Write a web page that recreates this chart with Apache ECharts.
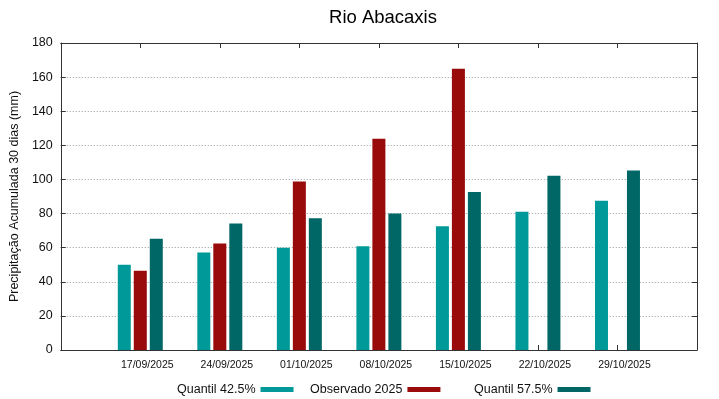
<!DOCTYPE html>
<html>
<head>
<meta charset="utf-8">
<title>Rio Abacaxis</title>
<script src="https://cdn.jsdelivr.net/npm/echarts@6/dist/echarts.min.js"></script>
<style>
    html, body { margin: 0; padding: 0; background: #fff; }
    #chart { width: 719px; height: 399px; }
</style>
</head>
<body>
<div id="chart"></div>
<script>
// empty slots at both ends keep the gnuplot-like spacing
let datas = ['', '17/09/2025', '24/09/2025', '01/10/2025', '08/10/2025', '15/10/2025', '22/10/2025', '29/10/2025', ''];

let quantil425 = [null, 50.0, 57.2, 60.0, 60.9, 72.6, 81.0, 87.5, null];
let observado = [null, 46.5, 62.5, 98.8, 123.9, 164.9, null, null, null];
let quantil575 = [null, 65.2, 74.2, 77.3, 80.0, 92.7, 102.1, 105.2, null];

let nomes = ['Quantil 42.5%', 'Observado 2025', 'Quantil 57.5%'];
let cores = ['#009999', '#990a0a', '#006666'];

let fonte = 'Liberation Sans, Arial, sans-serif';

function legenda(nome, left) {
    return {
        data: [nome],
        left: left,
        top: 378,
        align: 'right',
        itemWidth: 33,
        itemHeight: 5,
        icon: 'rect',
        selectedMode: false,
        textStyle: { fontFamily: fonte, fontSize: 12.5, color: '#111' }
    };
}

function barra(nome, valores, cor) {
    return {
        name: nome,
        type: 'bar',
        data: valores,
        barWidth: 13,
        barGap: '23%',
        itemStyle: { color: cor },
        emphasis: { disabled: true }
    };
}

let chart = echarts.init(document.getElementById('chart'));

let linha = { onZero: false, lineStyle: { color: '#333', width: 1 } };
let tick = { show: true, inside: true, length: 5, lineStyle: { color: '#333' } };

let option = {
    animation: false,
    title: {
        text: 'Rio Abacaxis',
        left: 378,
        top: 3,
        textAlign: 'center',
        textStyle: { fontFamily: fonte, fontSize: 18.5, fontWeight: 'normal', color: '#000' }
    },
    legend: [
        legenda(nomes[0], 172),
        legenda(nomes[1], 305),
        legenda(nomes[2], 469)
    ],
    grid: { left: 59, right: 22, top: 43, bottom: 49 },
    xAxis: [
        {
            type: 'category',
            data: datas,
            boundaryGap: false,
            axisLine: linha,
            axisTick: Object.assign({ interval: 0 }, tick),
            axisLabel: {
                interval: 0,
                margin: 10,
                padding: [0, 0, 0, 14],
                fontFamily: fonte,
                fontSize: 10.5,
                color: '#111'
            },
            splitLine: { show: false }
        },
        {
            type: 'category',
            data: datas,
            boundaryGap: false,
            position: 'top',
            axisLine: linha,
            axisTick: Object.assign({ interval: 0 }, tick),
            axisLabel: { show: false },
            splitLine: { show: false }
        }
    ],
    yAxis: [
        {
            type: 'value',
            min: 0,
            max: 180,
            interval: 20,
            name: 'Precipitação Acumulada 30 dias (mm)',
            nameLocation: 'middle',
            nameGap: 30,
            nameTextStyle: { fontFamily: fonte, fontSize: 12.5, color: '#111' },
            axisLine: Object.assign({ show: true }, linha),
            axisTick: tick,
            axisLabel: { margin: 8, fontFamily: fonte, fontSize: 12.5, color: '#111' },
            splitLine: { show: true, lineStyle: { color: '#999', type: [1, 2], width: 1 } }
        },
        {
            type: 'value',
            min: 0,
            max: 180,
            interval: 20,
            position: 'right',
            axisLine: Object.assign({ show: true }, linha),
            axisTick: tick,
            axisLabel: { show: false },
            splitLine: { show: false }
        }
    ],
    series: [
        barra(nomes[0], quantil425, cores[0]),
        barra(nomes[1], observado, cores[1]),
        barra(nomes[2], quantil575, cores[2])
    ]
};

chart.setOption(option);
</script>
</body>
</html>
